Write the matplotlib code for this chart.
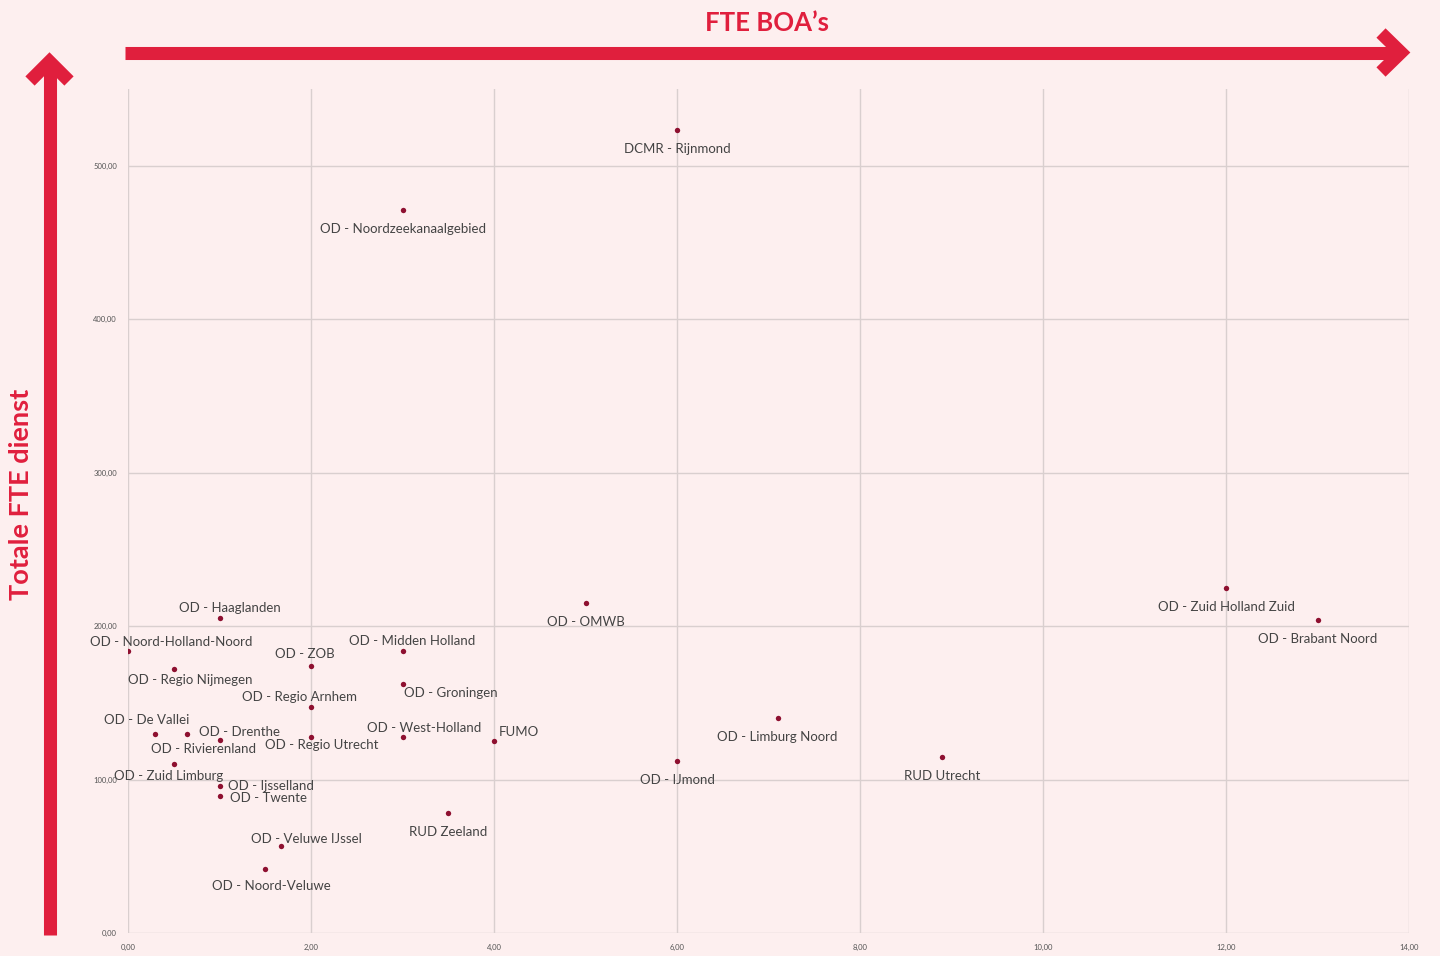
import matplotlib.pyplot as plt
from matplotlib.lines import Line2D

# ---------------- data ----------------
organisaties = [
    "DCMR - Rijnmond", "OD - Noordzeekanaalgebied", "OD - Haaglanden",
    "OD - Noord-Holland-Noord", "OD - Regio Nijmegen", "OD - ZOB",
    "OD - Midden Holland", "OD - Groningen", "OD - Regio Arnhem",
    "OD - Regio Utrecht", "OD - West-Holland", "FUMO", "OD - De Vallei",
    "OD - Rivierenland", "OD - Drenthe", "OD - Zuid Limburg",
    "OD - Ijsselland", "OD - Twente", "OD - Veluwe IJssel",
    "OD - Noord-Veluwe", "RUD Zeeland", "OD - IJmond",
    "OD - Limburg Noord", "RUD Utrecht", "OD - OMWB",
    "OD - Zuid Holland Zuid", "OD - Brabant Noord",
]
fte_boa = [6.0, 3.0, 1.0, 0.0, 0.5, 2.0, 3.0, 3.0, 2.0, 2.0, 3.0, 4.0, 0.3,
           0.65, 1.0, 0.5, 1.0, 1.0, 1.67, 1.5, 3.5, 6.0, 7.1, 8.9, 5.0,
           12.0, 13.0]
fte_dienst = [523, 471, 205, 184, 172, 174, 184, 162, 147, 128, 128, 125,
              130, 130, 126, 110, 96, 89, 57, 42, 78, 112, 140, 115, 215,
              225, 204]

x_ticks = [0, 2, 4, 6, 8, 10, 12, 14]
y_ticks = [0, 100, 200, 300, 400, 500]

# label placement (pixels from point), default: centred below
label_pos = {
    "OD - Haaglanden": (10, 10, "center"),
    "OD - Noord-Holland-Noord": (43, 9, "center"),
    "OD - Regio Nijmegen": (16, -11, "center"),
    "OD - ZOB": (-6, 12, "center"),
    "OD - Midden Holland": (10, 10, "center"),
    "OD - Groningen": (2, -9, "left"),
    "OD - Regio Arnhem": (-11, 10, "center"),
    "OD - Regio Utrecht": (11, -8, "center"),
    "OD - West-Holland": (22, 9, "center"),
    "FUMO": (5, 9, "left"),
    "OD - De Vallei": (-9, 14, "center"),
    "OD - Rivierenland": (16, -15, "center"),
    "OD - Drenthe": (20, 8, "center"),
    "OD - Zuid Limburg": (-5, -12, "center"),
    "OD - Ijsselland": (9, 0, "left"),
    "OD - Twente": (10, -2, "left"),
    "OD - Veluwe IJssel": (26, 7, "center"),
    "OD - Noord-Veluwe": (6, -17, "center"),
}

# ---------------- style ----------------
bg = "#fdefef"
rood = "#e01f3d"
punt = "#8e1030"
plt.rcParams['font.family'] = ['Lato', 'DejaVu Sans']

fig = plt.figure(figsize=(14.4, 9.56), dpi=100, facecolor=bg)
ax = fig.add_axes([128/1440, 1 - 933/956, (1409 - 128)/1440, (933 - 89)/956])
ax.set_facecolor(bg)

ax.scatter(fte_boa, fte_dienst, s=15, color=punt, zorder=3, linewidths=0)

for naam, x, y in zip(organisaties, fte_boa, fte_dienst):
    dx, dy, ha = label_pos.get(naam, (0, -19, "center"))
    ax.annotate(naam, (x, y), xytext=(dx, dy), textcoords="offset pixels",
                ha=ha, va="center", fontsize=9.5, color="#444444", zorder=4)

ax.set_xlim(0, 14)
ax.set_ylim(0, 550)
ax.set_xticks(x_ticks)
ax.set_yticks(y_ticks)
ax.set_xticklabels([f"{v:.2f}".replace(".", ",") for v in x_ticks])
ax.set_yticklabels([f"{v:.2f}".replace(".", ",") for v in y_ticks])
ax.tick_params(length=0, labelsize=5.5, labelcolor="#555555", pad=8)
ax.grid(True, color="#d9cfcf", linewidth=1)
ax.set_axisbelow(True)
for s in ax.spines.values():
    s.set_visible(False)

# ---------------- arrows + titles ----------------
ov = fig.add_axes([0, 0, 1, 1], facecolor="none")
ov.set_xlim(0, 1440)
ov.set_ylim(956, 0)
ov.axis("off")

lw = 9.4
ov.add_line(Line2D([125, 1398], [52.5, 52.5], lw=lw, color=rood, solid_capstyle="butt"))
ov.add_line(Line2D([1381, 1401, 1381], [33, 52.5, 72], lw=lw, color=rood,
                   solid_joinstyle="miter", solid_capstyle="butt"))
ov.add_line(Line2D([49.5, 49.5], [935, 64], lw=lw, color=rood, solid_capstyle="butt"))
ov.add_line(Line2D([30, 49.5, 69], [81, 61.5, 81], lw=lw, color=rood,
                   solid_joinstyle="miter", solid_capstyle="butt"))

fig.text(767/1440, 1 - 23/956, "FTE BOA’s", color=rood, fontsize=18.5,
         fontweight="bold", ha="center", va="center")
fig.text(21/1440, 1 - 494/956, "Totale FTE dienst", color=rood, fontsize=19.5,
         fontweight="bold", ha="center", va="center", rotation=90)

fig.savefig("out.png", dpi=100, facecolor=bg)
